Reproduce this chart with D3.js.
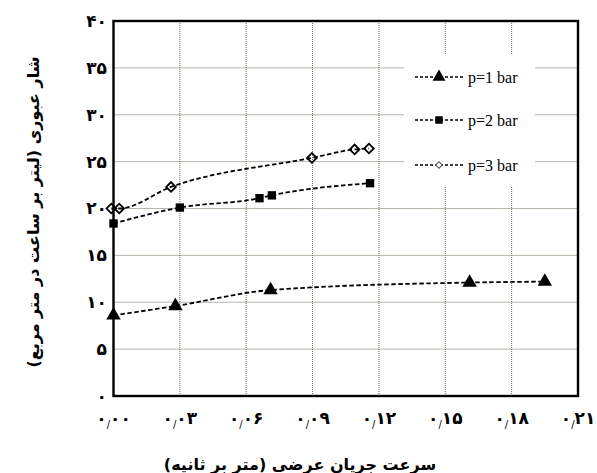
<!DOCTYPE html>
<html>
<head>
<meta charset="utf-8">
<script src="https://cdn.jsdelivr.net/npm/d3@7"></script>
<style>
body { margin: 0; background: #fff; }
</style>
</head>
<body>
<svg id="chart" width="597" height="473"></svg>
<script>
var svg = d3.select("#chart")

// data
var p1X = [0, 0.028, 0.071, 0.161, 0.195]
var p1Y = [8.6, 9.6, 11.3, 12.1, 12.2]
var p2X = [0, 0.030, 0.066, 0.0716, 0.116]
var p2Y = [18.4, 20.1, 21.1, 21.4, 22.7]
var p3X = [-0.001, 0.0026, 0.026, 0.0897, 0.109, 0.1155]
var p3Y = [20.0, 20.0, 22.3, 25.4, 26.3, 26.4]
var seriesNames = ["p=1 bar", "p=2 bar", "p=3 bar"]
var xTicks = [0, 0.03, 0.06, 0.09, 0.12, 0.15, 0.18, 0.21]
var yTicks = [0, 5, 10, 15, 20, 25, 30, 35, 40]
var yTitle = "شار عبوری (لیتر بر ساعت در متر مربع)"
var xTitle = "سرعت جریان عرضی (متر بر ثانیه)"

var plotL = 113.5, plotR = 578, plotT = 21, plotB = 396

var x = d3.scaleLinear().domain([0, 0.21]).range([plotL, plotR])
var y = d3.scaleLinear().domain([0, 40]).range([plotB, plotT])

function fa(s) {
    return s.replace(/[0-9]/g, function (c) { return "۰۱۲۳۴۵۶۷۸۹"[+c] })
}

// grid
var gridColor = "#6f6b58"
svg.append("g")
    .selectAll("line")
    .data(xTicks.slice(1, -1))
    .enter()
    .append("line")
    .attr("x1", function (d) { return x(d) })
    .attr("x2", function (d) { return x(d) })
    .attr("y1", plotT)
    .attr("y2", plotB)
    .attr("stroke", gridColor)
    .attr("stroke-width", 1)
    .attr("stroke-dasharray", "1,1")
svg.append("g")
    .selectAll("line")
    .data(yTicks.slice(1, -1))
    .enter()
    .append("line")
    .attr("x1", plotL)
    .attr("x2", plotR)
    .attr("y1", function (d) { return y(d) })
    .attr("y2", function (d) { return y(d) })
    .attr("stroke", gridColor)
    .attr("stroke-width", 1)
    .attr("stroke-dasharray", "1,1")

// frame
svg.append("rect")
    .attr("x", plotL)
    .attr("y", plotT)
    .attr("width", plotR - plotL)
    .attr("height", plotB - plotT)
    .attr("fill", "none")
    .attr("stroke", "#000")
    .attr("stroke-width", 2.4)

// tick labels
svg.append("g")
    .selectAll("text")
    .data(yTicks)
    .enter()
    .append("text")
    .attr("x", 107)
    .attr("y", function (d) { return y(d) })
    .attr("dy", "0.35em")
    .attr("text-anchor", "end")
    .style("font-family", "DejaVu Sans")
    .style("font-weight", "bold")
    .style("font-size", "17px")
    .text(function (d) { return fa(String(d)) })

var xl = svg.append("g")
    .selectAll("text")
    .data(xTicks)
    .enter()
    .append("text")
    .attr("x", function (d) { return x(d) })
    .attr("y", 418)
    .attr("dy", "0.35em")
    .attr("text-anchor", "middle")
    .attr("direction", "ltr")
    .style("font-family", "DejaVu Sans")
    .style("font-weight", "bold")
    .style("font-size", "17px")
xl.append("tspan").text(function (d) { return fa(d.toFixed(2).split(".")[0]) })
xl.append("tspan")
    .style("font-size", "10px")
    .style("font-weight", "normal")
    .attr("dy", "4")
    .text("/")
xl.append("tspan")
    .attr("dy", "-4")
    .text(function (d) { return fa(d.toFixed(2).split(".")[1]) })

// titles
svg.append("text")
    .attr("transform", "translate(33,212)rotate(-90)")
    .attr("text-anchor", "middle")
    .attr("dy", "0.35em")
    .style("font-family", "DejaVu Sans")
    .style("font-weight", "bold")
    .style("font-size", "16px")
    .text(yTitle)

svg.append("text")
    .attr("x", 300)
    .attr("y", 470)
    .attr("text-anchor", "middle")
    .style("font-family", "DejaVu Sans")
    .style("font-weight", "bold")
    .style("font-size", "16px")
    .text(xTitle)

// lines
var line = d3.line()
    .x(function (d) { return x(d[0]) })
    .y(function (d) { return y(d[1]) })
    .curve(d3.curveMonotoneX)

var series = [d3.zip(p1X, p1Y), d3.zip(p2X, p2Y), d3.zip(p3X, p3Y)]
var shapes = [d3.symbolTriangle, d3.symbolSquare, d3.symbolSquare]
var sizes = [90, 70, 46]
var fills = ["#000", "#000", "none"]

series.forEach(function (s, i) {
    svg.append("path")
        .datum(s)
        .attr("d", line)
        .attr("fill", "none")
        .attr("stroke", "#000")
        .attr("stroke-width", 1.8)
        .attr("stroke-dasharray", "4.5,2.5")
})

series.forEach(function (s, i) {
    svg.append("g")
        .selectAll("path")
        .data(s)
        .enter()
        .append("path")
        .attr("transform", function (d) {
            var r = i == 2 ? "rotate(45)" : ""
            return "translate(" + x(d[0]) + "," + y(d[1]) + ")" + r
        })
        .attr("d", d3.symbol().type(shapes[i]).size(sizes[i]))
        .attr("fill", fills[i])
        .attr("stroke", "#000")
        .attr("stroke-width", i == 2 ? 1.8 : 0)
})

// legend
svg.append("rect")
    .attr("x", 404)
    .attr("y", 54)
    .attr("width", 131)
    .attr("height", 133)
    .attr("fill", "#fff")

var legendY = [77, 120, 165]
seriesNames.forEach(function (name, i) {
    var g = svg.append("g")
    g.append("line")
        .attr("x1", 415)
        .attr("x2", 464)
        .attr("y1", legendY[i])
        .attr("y2", legendY[i])
        .attr("stroke", "#000")
        .attr("stroke-width", 1.4)
        .attr("stroke-dasharray", "3,2")
    g.append("path")
        .attr("transform", "translate(439," + legendY[i] + ")" + (i == 2 ? "rotate(45)" : ""))
        .attr("d", d3.symbol().type(shapes[i]).size(i == 2 ? 22 : sizes[i] * 0.8))
        .attr("fill", i == 2 ? "#fff" : "#000")
        .attr("stroke", "#555")
        .attr("stroke-width", i == 2 ? 1 : 0)
    g.append("text")
        .attr("x", 468)
        .attr("y", legendY[i])
        .attr("dy", "0.35em")
        .style("font-family", "Liberation Serif")
        .style("font-size", "16px")
        .text(name)
})
</script>
</body>
</html>
